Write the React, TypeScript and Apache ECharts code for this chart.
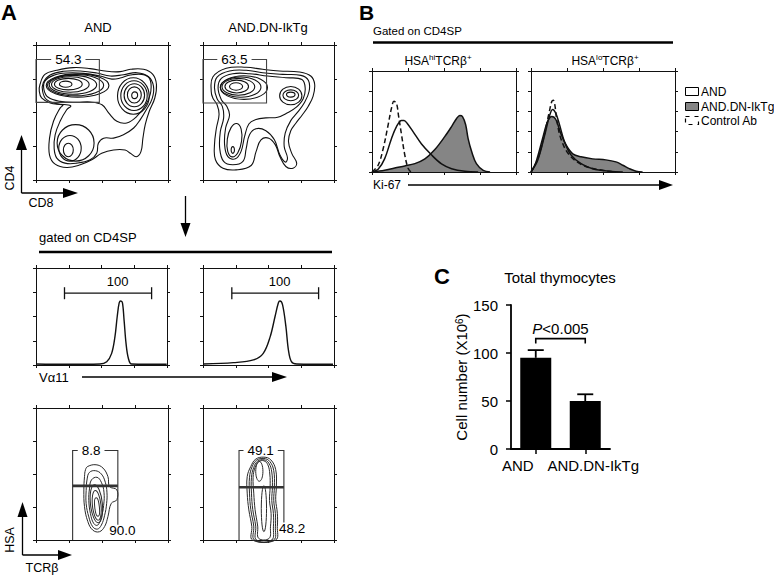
import React, { useEffect, useRef } from 'react';
import * as echarts from 'echarts';

const FONT = '"Liberation Sans", Arial, Helvetica, sans-serif';
const INK = '#111111';
const GRAY = '#858585';

// ---------------- Panel A : CD4 x CD8 (log decades 0-4) ----------------
const andCd4Cd8Contours = [
  [[0.12,2.83],[0.27,3.13],[0.63,3.25],[1.13,3.33],[1.64,3.3],[2.15,3.22],[2.55,3.21],[2.86,3.28],[3.26,3.28],[3.54,3.13],[3.65,2.83],[3.6,2.43],[3.43,2.03],[3.31,1.64],[3.24,1.24],[3.18,0.84],[3.04,0.69],[2.86,0.79],[2.7,0.89],[2.35,0.89],[1.99,0.79],[1.69,0.6],[1.34,0.45],[0.93,0.37],[0.58,0.47],[0.41,0.74],[0.41,1.24],[0.53,1.74],[0.73,2.13],[0.81,2.22],[0.43,2.28],[0.17,2.43],[0.1,2.63]],
  [[0.22,2.88],[0.43,3.11],[0.83,3.22],[1.34,3.23],[1.84,3.17],[2.25,3.08],[2.65,3.12],[3.06,3.18],[3.41,3.06],[3.56,2.78],[3.52,2.41],[3.33,2.06],[3.16,1.79],[2.96,1.54],[2.65,1.34],[2.35,1.24],[2.05,1.24],[1.89,1.09],[1.84,0.79],[1.64,0.6],[1.24,0.5],[0.88,0.5],[0.63,0.65],[0.55,0.94],[0.58,1.34],[0.73,1.74],[0.93,2.08],[1.05,2.2],[0.63,2.26],[0.32,2.38],[0.2,2.63]],
  [[0.27,2.93],[0.53,3.1],[0.93,3.17],[1.44,3.16],[1.94,3.08],[2.3,2.99],[2.55,3.02],[2.86,3.11],[3.21,3.13],[3.44,3.01],[3.48,2.63],[3.33,2.23],[3.06,1.89],[2.75,1.69],[2.45,1.74],[2.2,1.99],[2.0,2.23],[1.64,2.31],[1.24,2.3],[0.73,2.33],[0.37,2.45],[0.24,2.68]],
];
// ellipse rings: [cx, cy, rx, ry, rotationDeg]
const andCd4Cd8Rings = [
  [0.9,2.84,0.19,0.09,0],[0.98,2.84,0.42,0.17,0],[1.04,2.83,0.57,0.23,0],[1.12,2.82,0.72,0.28,0],[1.2,2.81,0.85,0.315,0],[1.26,2.8,0.95,0.345,0],
  [2.99,2.51,0.09,0.1,0],[2.98,2.52,0.21,0.24,0],[2.98,2.51,0.31,0.34,0],[2.97,2.5,0.4,0.44,0],[2.95,2.49,0.48,0.54,0],
  [0.98,0.89,0.15,0.2,0],[1.03,0.94,0.34,0.38,0],[1.2,1.1,0.56,0.54,0],
];
const dnCd4Cd8Contours = [
  [[0.25,2.63],[0.3,3.05],[0.71,3.31],[1.32,3.34],[1.82,3.28],[2.33,3.23],[2.94,3.2],[3.29,3.08],[3.41,2.83],[3.36,2.48],[3.21,2.18],[3.04,1.94],[2.84,1.69],[2.68,1.46],[2.61,1.14],[2.71,0.79],[2.86,0.5],[2.75,0.35],[2.53,0.4],[2.35,0.69],[2.21,1.04],[2.01,1.24],[1.77,1.19],[1.62,0.84],[1.47,0.43],[1.01,0.3],[0.61,0.35],[0.38,0.6],[0.35,1.04],[0.41,1.54],[0.49,1.94],[0.43,2.23],[0.3,2.43]],
  [[0.35,2.73],[0.43,3.05],[0.81,3.23],[1.32,3.25],[1.82,3.18],[2.43,3.13],[2.99,3.1],[3.22,2.95],[3.24,2.63],[3.09,2.28],[2.89,2.01],[2.68,1.76],[2.51,1.39],[2.48,0.99],[2.58,0.65],[2.51,0.53],[2.35,0.74],[2.18,1.19],[1.92,1.46],[1.62,1.52],[1.42,1.34],[1.32,0.94],[1.22,0.55],[0.91,0.45],[0.63,0.55],[0.51,0.94],[0.53,1.44],[0.63,1.84],[0.59,2.18],[0.43,2.41]],
  [[0.46,2.73],[0.56,3.01],[0.91,3.15],[1.42,3.15],[1.97,3.08],[2.53,3.03],[3.02,2.98],[3.12,2.73],[3.06,2.41],[2.84,2.15],[2.58,1.99],[2.28,1.86],[1.92,1.84],[1.62,1.79],[1.4,1.66],[1.27,1.29],[1.16,0.84],[0.99,0.63],[0.76,0.69],[0.66,1.04],[0.69,1.54],[0.81,1.92],[0.73,2.18],[0.56,2.38]],
];
const dnCd4Cd8Rings = [
  [1.01,2.77,0.2,0.11,0],[1.03,2.77,0.36,0.19,0],[1.08,2.76,0.5,0.25,0],[1.15,2.75,0.62,0.3,0],[1.25,2.74,0.72,0.35,0],
  [2.68,2.53,0.13,0.075,0],[2.68,2.51,0.24,0.16,0],[2.68,2.5,0.34,0.27,0],
  [0.91,0.89,0.05,0.1,0],[0.96,1.18,0.22,0.5,-8],
];
const cd4GateBox = [[0, 1.92, 2.3, 3.57], [0, 1.94, 2.28, 3.57]]; // x0, x1, yBottom, yTop
const cd4GateLabelX = [0.98, 0.96];
const cd4GateLabels = ['54.3', '63.5'];

// ---------------- Panel A : V alpha 11 histograms ----------------
const andVa11 = [[0,1],[0.94,0.7],[1.95,1],[2.16,3.4],[2.31,12],[2.41,29],[2.48,50],[2.54,64],[2.59,66],[2.64,64],[2.69,46],[2.75,22],[2.82,7],[2.92,1],[3.99,0.7]];
const dnVa11 = [[0.02,1],[0.93,2.4],[1.54,5.2],[1.84,12],[2.05,29],[2.2,50],[2.3,64],[2.35,66],[2.43,62],[2.53,40],[2.61,15],[2.7,3.4],[2.86,1],[3.97,0.7]];
const va11Bracket = [[0.87, 3.53, 74], [0.88, 3.53, 74]];
const va11LabelPos = [[2.49, 86], [2.34, 86]];
const va11Labels = ['100', '100'];

// ---------------- Panel A : HSA x TCRb ----------------
const andHsaContours = [
  [[1.57,2.23],[1.82,2.28],[2.03,2.18],[2.18,1.92],[2.23,1.62],[2.45,1.52],[2.45,1.22],[2.28,1.11],[2.18,0.71],[2.08,0.41],[1.92,0.25],[1.72,0.3],[1.57,0.56],[1.47,1.01],[1.45,1.52],[1.47,1.92],[1.5,2.13]],
  [[1.62,2.05],[1.8,2.1],[1.98,2.0],[2.1,1.75],[2.15,1.45],[2.14,1.1],[2.08,0.75],[1.98,0.45],[1.86,0.33],[1.72,0.4],[1.6,0.7],[1.52,1.1],[1.52,1.5],[1.55,1.85]],
  [[1.68,1.82],[1.85,1.9],[1.98,1.75],[2.06,1.45],[2.05,1.05],[1.98,0.7],[1.87,0.45],[1.75,0.5],[1.65,0.8],[1.6,1.2],[1.62,1.55]],
];
const andHsaRings = [[1.85,1.0,0.07,0.28,6],[1.84,1.05,0.13,0.45,6],[1.83,1.1,0.18,0.58,6]];
const dnHsaContours = [
  [[1.35,1.92],[1.46,2.23],[1.61,2.45],[1.86,2.51],[2.07,2.43],[2.22,2.13],[2.24,1.62],[2.22,1.22],[2.27,0.81],[2.27,0.41],[2.22,0],[1.51,0],[1.49,0.41],[1.4,0.91],[1.35,1.42]],
  [[1.42,1.9],[1.5,2.22],[1.64,2.42],[1.86,2.47],[2.04,2.38],[2.16,2.1],[2.18,1.62],[2.16,1.2],[2.21,0.8],[2.21,0.4],[2.16,0],[1.57,0],[1.55,0.42],[1.46,0.92],[1.42,1.42]],
  [[1.48,1.9],[1.55,2.2],[1.67,2.39],[1.86,2.43],[2.01,2.33],[2.1,2.06],[2.12,1.62],[2.1,1.2],[2.15,0.8],[2.15,0.4],[2.1,0],[1.63,0],[1.61,0.42],[1.52,0.92],[1.48,1.42]],
  [[1.53,1.9],[1.59,2.2],[1.7,2.37],[1.86,2.4],[1.98,2.28],[2.04,2.0],[2.05,1.6],[2.03,1.2],[2.08,0.8],[2.06,0.4],[2.02,0.05],[1.7,0.05],[1.67,0.42],[1.59,0.92],[1.55,1.42]],
];
const dnHsaRings = [[1.72,2.08,0.11,0.3,0],[1.86,0.95,0.08,0.7,0]];
const hsaGate = [[1.11, 2.48, 1.64, 2.71, 0.46], [1.1, 2.47, 1.6, 2.71, 0.53]]; // x0, x1, ySplit, yTop, yRightEnd
const hsaHiLabelX = [1.67, 1.76];
const hsaHiLabels = ['8.8', '49.1'];
const hsaLoLabelPos = [[2.62, 0.28], [2.72, 0.35]];
const hsaLoLabels = ['90.0', '48.2'];

// ---------------- Panel B : Ki-67 histograms ----------------
const ki67HiCtrl = [[0,0],[0.17,6.7],[0.31,23],[0.45,47],[0.54,63],[0.61,70],[0.68,68],[0.74,55],[0.82,37],[0.91,17],[1.0,4],[1.08,0]];
const ki67HiAnd = [[0,0],[0.17,2.7],[0.35,13],[0.54,33],[0.68,45],[0.82,51],[0.89,51],[0.98,48],[1.14,40],[1.37,28],[1.65,17],[1.93,8],[2.21,3.3],[2.58,0.7],[2.95,0]];
const ki67HiDn = [[0,0],[0.35,1.7],[0.63,4],[0.91,6],[1.19,8.3],[1.47,13],[1.74,22],[2.02,35],[2.21,45],[2.35,53],[2.44,56],[2.51,55],[2.6,47],[2.67,33],[2.77,20],[2.9,8.3],[3.09,1.7],[3.28,0]];
const ki67LoCtrl = [[0,0],[0.19,13],[0.37,37],[0.51,60],[0.58,70],[0.62,71],[0.66,67],[0.71,53],[0.83,33],[1.06,17],[1.44,6.7],[1.99,1.7],[2.36,0]];
const ki67LoAnd = [[0,0],[0.19,12],[0.37,35],[0.51,55],[0.6,62],[0.69,58],[0.79,47],[0.93,30],[1.11,17],[1.39,8.3],[1.71,3.3],[2.18,0.7],[2.55,0]];
const ki67LoDn = [[0,0],[0.14,10],[0.32,33],[0.46,50],[0.58,55],[0.69,52],[0.83,38],[0.97,27],[1.16,18],[1.39,15],[1.71,13],[2.08,12],[2.36,10],[2.55,6.7],[2.73,3.3],[2.92,0.7],[3.1,0]];
const legendNames = ['AND', 'AND.DN-IkTg', 'Control Ab'];

// ---------------- Panel C : total thymocytes ----------------
const cCategories = ['AND', 'AND.DN-IkTg'];
const cMeans = [95, 50];
const cErrors = [8, 7];
const cBracket = [[0, 1, 115]];
const cPText = '<0.005';

function charW(s: string, size: number) {
  let w = 0;
  for (const ch of s) w += (ch === '.' ? 0.278 : 0.556) * size;
  return w;
}

function tStyle(text: string, size: number, align = 'center', extra: any = {}) {
  return {
    text, fontSize: size, fontFamily: FONT, fill: '#000',
    align, textAlign: align, verticalAlign: 'middle', textVerticalAlign: 'middle', ...extra,
  };
}

function buildOption() {
  const grid: any[] = [];
  const xAxis: any[] = [];
  const yAxis: any[] = [];
  const series: any[] = [];

  const frame = (left: number, top: number, width: number, height: number, xr: number[], yr: number[]) => {
    const g = grid.length;
    grid.push({ left, top, width, height, outerBoundsMode: 'none' });
    const mk = (pos: string, r: number[]) => ({
      gridIndex: g, type: 'value', position: pos, min: r[0], max: r[1], interval: r[2],
      axisLine: { show: true, onZero: false, lineStyle: { color: INK, width: 1 } },
      axisTick: { show: true, inside: false, length: 3, lineStyle: { color: INK, width: 1 } },
      axisLabel: { show: false }, splitLine: { show: false },
    });
    const xi = xAxis.length;
    xAxis.push(mk('bottom', xr), mk('top', xr));
    const yi = yAxis.length;
    yAxis.push(mk('left', yr), mk('right', yr));
    return { xi, yi };
  };

  const contours = (ax: any, polys: number[][][], rings: number[][], width: number, color = INK) => {
    series.push({
      type: 'custom', xAxisIndex: ax.xi, yAxisIndex: ax.yi, silent: true, z: 3,
      data: polys.map((p, i) => [p[0][0], p[0][1], i]),
      renderItem: (params: any, api: any) => ({
        type: 'polygon',
        shape: { points: polys[params.dataIndex].map((p) => api.coord(p)), smooth: 0.4 },
        style: { fill: 'none', stroke: color, lineWidth: width },
      }),
    });
    series.push({
      type: 'custom', xAxisIndex: ax.xi, yAxisIndex: ax.yi, silent: true, z: 3,
      data: rings,
      renderItem: (params: any, api: any) => {
        const cx = api.value(0), cy = api.value(1);
        const c = api.coord([cx, cy]);
        const s = api.size([api.value(2) * 2, api.value(3) * 2], [cx, cy]);
        return {
          type: 'ellipse', x: c[0], y: c[1], rotation: (api.value(4) * Math.PI) / 180,
          shape: { cx: 0, cy: 0, rx: s[0] / 2, ry: s[1] / 2 },
          style: { fill: 'none', stroke: color, lineWidth: width },
        };
      },
    });
  };

  const hist = (ax: any, pts: number[][], opt: any) => {
    series.push({
      type: 'line', xAxisIndex: ax.xi, yAxisIndex: ax.yi, data: pts, smooth: 0.35,
      symbol: 'none', silent: true, z: opt.z || 2,
      lineStyle: { color: INK, width: opt.width || 1.4, type: opt.dash ? [5, 3] : 'solid' },
      areaStyle: opt.fill ? { color: GRAY, opacity: 1 } : undefined,
    });
  };

  // ---- Panel A contour plots (CD4 x CD8) ----
  const a1 = frame(36, 45, 132, 135, [0, 4, 1], [0, 4, 1]);
  const a2 = frame(203, 45, 131, 135, [0, 4, 1], [0, 4, 1]);
  [[a1, andCd4Cd8Contours, andCd4Cd8Rings], [a2, dnCd4Cd8Contours, dnCd4Cd8Rings]].forEach(([ax, p, r]: any, i) => {
    contours(ax, p, r, 1.1);
    series.push({
      type: 'custom', xAxisIndex: ax.xi, yAxisIndex: ax.yi, silent: true, z: 6,
      data: [cd4GateBox[i]],
      renderItem: (params: any, api: any) => {
        const x0 = api.value(0), x1 = api.value(1), yb = api.value(2), yt = api.value(3);
        const tl = api.coord([x0, yt]), tr = api.coord([x1, yt]);
        const br = api.coord([x1, yb]), bl = api.coord([x0, yb]);
        const lc = api.coord([cd4GateLabelX[i], yt]);
        const half = charW(cd4GateLabels[i], 13.5) / 2 + 4;
        return {
          type: 'group',
          children: [
            { type: 'polyline', shape: { points: [[lc[0] + half, tr[1]], tr, br, bl, tl, [lc[0] - half, tl[1]]] }, style: { fill: 'none', stroke: '#444', lineWidth: 1.1 } },
            { type: 'text', x: lc[0], y: lc[1], style: tStyle(cd4GateLabels[i], 13.5) },
          ],
        };
      },
    });
  });

  // ---- Panel A histograms (Va11) ----
  const a3 = frame(36, 268, 131, 97, [0, 4, 1], [0, 100, 25]);
  const a4 = frame(203, 268, 131, 97, [0, 4, 1], [0, 100, 25]);
  [[a3, andVa11], [a4, dnVa11]].forEach(([ax, pts]: any, i) => {
    hist(ax, pts, { width: 1.4 });
    series.push({
      type: 'custom', xAxisIndex: ax.xi, yAxisIndex: ax.yi, silent: true, z: 6,
      data: [va11Bracket[i]],
      renderItem: (params: any, api: any) => {
        const a = api.coord([api.value(0), api.value(2)]);
        const b = api.coord([api.value(1), api.value(2)]);
        const t = api.coord(va11LabelPos[i]);
        const st = { stroke: INK, lineWidth: 1.3 };
        return {
          type: 'group',
          children: [
            { type: 'line', shape: { x1: a[0], y1: a[1], x2: b[0], y2: b[1] }, style: st },
            { type: 'line', shape: { x1: a[0], y1: a[1] - 6, x2: a[0], y2: a[1] + 6 }, style: st },
            { type: 'line', shape: { x1: b[0], y1: b[1] - 6, x2: b[0], y2: b[1] + 6 }, style: st },
            { type: 'text', x: t[0], y: t[1], style: tStyle(va11Labels[i], 13) },
          ],
        };
      },
    });
  });

  // ---- Panel A contour plots (HSA x TCRb) ----
  const a5 = frame(36, 408, 132, 132, [0, 4, 1], [0, 4, 1]);
  const a6 = frame(203, 408, 131, 132, [0, 4, 1], [0, 4, 1]);
  [[a5, andHsaContours, andHsaRings], [a6, dnHsaContours, dnHsaRings]].forEach(([ax, p, r]: any, i) => {
    contours(ax, p, r, 1, '#2a2a2a');
    series.push({
      type: 'custom', xAxisIndex: ax.xi, yAxisIndex: ax.yi, silent: true, z: 6,
      data: [hsaGate[i]],
      renderItem: (params: any, api: any) => {
        const x0 = api.value(0), x1 = api.value(1), ys = api.value(2), yt = api.value(3), ye = api.value(4);
        const lb = api.coord([x0, 0]), lt = api.coord([x0, yt]);
        const rt = api.coord([x1, yt]), re = api.coord([x1, ye]);
        const s0 = api.coord([x0, ys]), s1 = api.coord([x1, ys]);
        const hl = api.coord([hsaHiLabelX[i], yt]);
        const lo = api.coord(hsaLoLabelPos[i]);
        const half = charW(hsaHiLabels[i], 13.5) / 2 + 4;
        const st = { fill: 'none', stroke: '#333', lineWidth: 1.1 };
        return {
          type: 'group',
          children: [
            { type: 'polyline', shape: { points: [[hl[0] - half, lt[1]], lt, lb] }, style: st },
            { type: 'polyline', shape: { points: [[hl[0] + half, rt[1]], rt, re] }, style: st },
            { type: 'line', shape: { x1: s0[0], y1: s0[1], x2: s1[0], y2: s1[1] }, style: { stroke: '#333', lineWidth: 2.6 } },
            { type: 'text', x: hl[0], y: hl[1], style: tStyle(hsaHiLabels[i], 13.5) },
            { type: 'text', x: lo[0], y: lo[1], style: tStyle(hsaLoLabels[i], 13.5) },
          ],
        };
      },
    });
  });

  // ---- Panel B ----
  const b1 = frame(372, 71, 144, 101, [0, 4, 1], [0, 100, 20]);
  const b2 = frame(531, 71, 144, 101, [0, 4, 1], [0, 100, 20]);
  hist(b1, ki67HiDn, { fill: true, z: 2, width: 1.5 });
  hist(b1, ki67HiAnd, { z: 3, width: 1.5 });
  hist(b1, ki67HiCtrl, { z: 4, dash: true, width: 1.5 });
  hist(b2, ki67LoDn, { fill: true, z: 2, width: 1.5 });
  hist(b2, ki67LoAnd, { z: 3, width: 1.5 });
  hist(b2, ki67LoCtrl, { z: 4, dash: true, width: 1.5 });

  // ---- Panel C ----
  const gC = grid.length;
  grid.push({ left: 511, top: 305, width: 99, height: 144, outerBoundsMode: 'none' });
  const cxi = xAxis.length;
  xAxis.push({
    gridIndex: gC, type: 'category', data: cCategories,
    axisLine: { show: true, lineStyle: { color: '#000', width: 1.8 } },
    axisTick: { show: true, alignWithLabel: true, length: 5, lineStyle: { color: '#000', width: 1.5 } },
    axisLabel: {
      interval: 0, hideOverlap: false,
      color: '#000', fontSize: 15, fontFamily: FONT, margin: 9,
      formatter: (v: string, i: number) => (i === 0 ? `{l|${v}}` : `{r|${v}}`),
      rich: {
        l: { fontSize: 15, fontFamily: FONT, color: '#000', padding: [0, 36, 0, 0] },
        r: { fontSize: 15, fontFamily: FONT, color: '#000', padding: [0, 0, 0, 16] },
      },
    },
    splitLine: { show: false },
  });
  const cyi = yAxis.length;
  yAxis.push({
    gridIndex: gC, type: 'value', min: 0, max: 150, interval: 50,
    axisLine: { show: true, lineStyle: { color: '#000', width: 1.8 } },
    axisTick: { show: true, length: 5, lineStyle: { color: '#000', width: 1.5 } },
    axisLabel: { color: '#000', fontSize: 15, fontFamily: FONT, margin: 13 },
    splitLine: { show: false },
    name: 'Cell number (X10{s|6})', nameLocation: 'middle', nameGap: 40,
    nameTextStyle: {
      color: '#000', fontSize: 15, fontFamily: FONT,
      rich: { s: { fontSize: 10, fontFamily: FONT, color: '#000', verticalAlign: 'top' } },
    },
  });
  series.push({
    type: 'bar', xAxisIndex: cxi, yAxisIndex: cyi, data: cMeans, barWidth: 31,
    itemStyle: { color: '#000' }, silent: true, z: 2,
  });
  series.push({
    type: 'custom', xAxisIndex: cxi, yAxisIndex: cyi, silent: true, z: 3,
    data: cMeans.map((m, i) => [i, m, cErrors[i]]),
    renderItem: (params: any, api: any) => {
      const base = api.coord([api.value(0), api.value(1)]);
      const top = api.coord([api.value(0), api.value(1) + api.value(2)]);
      const st = { stroke: '#000', lineWidth: 1.8 };
      return {
        type: 'group',
        children: [
          { type: 'line', shape: { x1: base[0], y1: base[1], x2: top[0], y2: top[1] }, style: st },
          { type: 'line', shape: { x1: top[0] - 8, y1: top[1], x2: top[0] + 8, y2: top[1] }, style: st },
        ],
      };
    },
  });
  series.push({
    type: 'custom', xAxisIndex: cxi, yAxisIndex: cyi, silent: true, z: 3,
    data: cBracket,
    renderItem: (params: any, api: any) => {
      const a = api.coord([api.value(0), api.value(2)]);
      const b = api.coord([api.value(1), api.value(2)]);
      return {
        type: 'group',
        children: [
          { type: 'polyline', shape: { points: [[a[0], a[1] + 5], a, b, [b[0], b[1] + 5]] }, style: { fill: 'none', stroke: '#000', lineWidth: 1.6 } },
          {
            type: 'text', x: (a[0] + b[0]) / 2, y: a[1] - 10,
            style: tStyle(`{i|P}${cPText}`, 15, 'center', {
              rich: { i: { fontStyle: 'italic', fontSize: 15, fontFamily: FONT, fill: '#000', color: '#000' } },
            }),
          },
        ],
      };
    },
  });

  // ---- Decorations: panel letters, titles, arrows, legend ----
  const txt = (x: number, y: number, text: string, size: number, o: any = {}) => ({
    type: 'text', x, y, rotation: o.rotation || 0, silent: true,
    style: tStyle(text, size, o.align || 'left', {
      fontWeight: o.bold ? 'bold' : 'normal',
      ...(o.rich ? { rich: o.rich } : {}),
    }),
  });
  const seg = (x1: number, y1: number, x2: number, y2: number, w = 1.3) => ({
    type: 'line', silent: true, shape: { x1, y1, x2, y2 }, style: { stroke: '#000', lineWidth: w },
  });
  const head = (pts: number[][]) => ({ type: 'polygon', silent: true, shape: { points: pts }, style: { fill: '#000' } });
  const supRich = {
    b: { fontSize: 12, fontFamily: FONT, fill: '#000', color: '#000', lineHeight: 15 },
    s: { fontSize: 8, fontFamily: FONT, fill: '#000', color: '#000', verticalAlign: 'top' },
  };

  const graphic: any[] = [
    txt(1, 12, 'A', 22, { bold: true }),
    txt(98, 27, 'AND', 13, { align: 'center' }),
    txt(268, 27, 'AND.DN-IkTg', 13, { align: 'center' }),
    // CD4 / CD8 axis arrows
    seg(21.5, 193, 21.5, 148), head([[21.5, 135], [16, 150], [27, 150]]),
    seg(21.5, 193, 65, 193), head([[78, 193], [63, 188], [63, 198]]),
    txt(10, 178, 'CD4', 12.5, { align: 'center', rotation: Math.PI / 2 }),
    txt(41, 203, 'CD8', 12.5, { align: 'center' }),
    // down arrow
    seg(185.5, 196, 185.5, 225), head([[185.5, 237], [180.5, 223], [190.5, 223]]),
    txt(39, 237, 'gated on CD4SP', 13),
    seg(39, 252, 332, 252, 2.6),
    txt(39, 377, 'V\u03b111', 13),
    seg(82, 377, 274, 377), head([[287, 377], [272, 372], [272, 382]]),
    // HSA / TCRb axis arrows
    seg(22.5, 555, 22.5, 515), head([[22.5, 502], [17.5, 517], [27.5, 517]]),
    seg(22.5, 555, 60, 555), head([[72, 555], [58, 550], [58, 560]]),
    txt(10, 540, 'HSA', 12.5, { align: 'center', rotation: Math.PI / 2 }),
    txt(42, 568, 'TCR\u03b2', 12.5, { align: 'center' }),
    // Panel B
    txt(359, 12, 'B', 21, { bold: true }),
    txt(373, 31, 'Gated on CD4SP', 11.5),
    seg(373, 42.5, 673, 42.5, 2.6),
    txt(438, 61, '{b|HSA}{s|hi}{b|TCR\u03b2}{s|+}', 12, { align: 'center', rich: supRich }),
    txt(605, 61, '{b|HSA}{s|lo}{b|TCR\u03b2}{s|+}', 12, { align: 'center', rich: supRich }),
    txt(373, 185, 'Ki-67', 12),
    seg(408, 185, 661, 185), head([[673, 185], [659, 180], [659, 190]]),
    { type: 'rect', silent: true, shape: { x: 685.5, y: 87.5, width: 13, height: 8 }, style: { fill: '#fff', stroke: '#000', lineWidth: 1 } },
    { type: 'rect', silent: true, shape: { x: 685.5, y: 102.5, width: 13, height: 8 }, style: { fill: GRAY, stroke: '#000', lineWidth: 1 } },
    { type: 'rect', silent: true, shape: { x: 685.5, y: 116.5, width: 13, height: 8 }, style: { fill: 'none', stroke: '#000', lineWidth: 1.2, lineDash: [4, 5] } },
    txt(701, 91.5, legendNames[0], 12),
    txt(701, 106.5, legendNames[1], 12),
    txt(701, 120.5, legendNames[2], 12),
    // Panel C
    txt(434, 276.5, 'C', 22, { bold: true }),
    txt(560, 277, 'Total thymocytes', 15, { align: 'center' }),
  ];

  return { animation: false, backgroundColor: '#fff', grid, xAxis, yAxis, series, graphic };
}

export default function App() {
  const ref = useRef<HTMLDivElement>(null);
  useEffect(() => {
    const chart = echarts.init(ref.current as HTMLDivElement, null, { renderer: 'svg' });
    chart.setOption(buildOption() as any);
    return () => chart.dispose();
  }, []);
  return (
    <div
      ref={ref}
      style={{ position: 'absolute', left: 0, top: 0, width: 774, height: 577, background: '#fff' }}
    />
  );
}
